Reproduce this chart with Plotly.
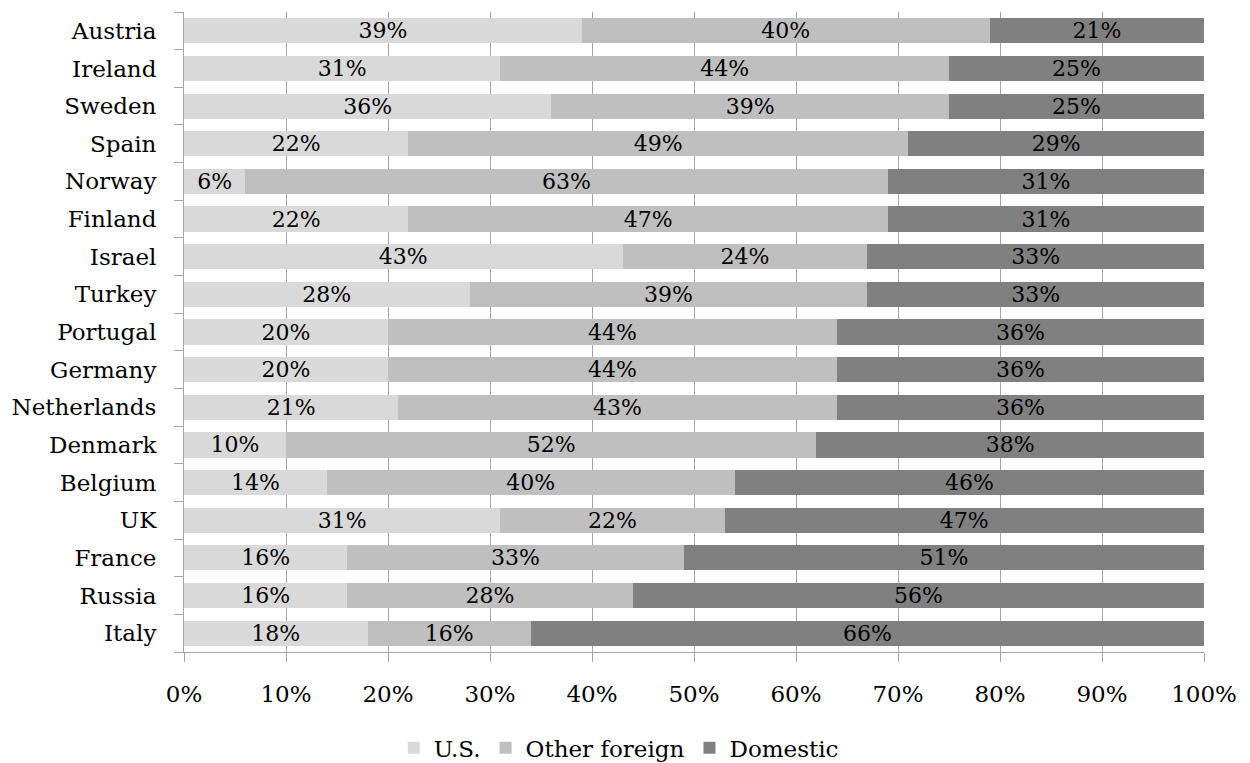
import plotly.graph_objects as go

countries = ["Austria", "Ireland", "Sweden", "Spain", "Norway", "Finland", "Israel",
             "Turkey", "Portugal", "Germany", "Netherlands", "Denmark", "Belgium",
             "UK", "France", "Russia", "Italy"]
us_share = [39, 31, 36, 22, 6, 22, 43, 28, 20, 20, 21, 10, 14, 31, 16, 16, 18]
other_foreign_share = [40, 44, 39, 49, 63, 47, 24, 39, 44, 44, 43, 52, 40, 22, 33, 28, 16]
domestic_share = [21, 25, 25, 29, 31, 31, 33, 33, 36, 36, 36, 38, 46, 47, 51, 56, 66]

series = [
    ("U.S.", us_share, "#d9d9d9"),
    ("Other foreign", other_foreign_share, "#bfbfbf"),
    ("Domestic", domestic_share, "#808080"),
]

FONT = "DejaVu Serif"
SIZE = 23
fig = go.Figure()
for name, vals, color in series:
    fig.add_trace(go.Bar(
        y=countries,
        x=[v / 100 for v in vals],
        name=name,
        orientation="h",
        marker=dict(color=color, line=dict(width=0)),
        text=[f"{v}%" for v in vals],
        textposition="inside",
        insidetextanchor="middle",
        textfont=dict(family=FONT, size=22, color="black"),
        cliponaxis=False,
    ))

fig.update_layout(
    barmode="stack",
    bargap=0.33,
    width=1250,
    height=763,
    margin=dict(l=184, r=46, t=12, b=111),
    plot_bgcolor="white",
    paper_bgcolor="white",
    font=dict(family=FONT, size=SIZE, color="black"),
    uniformtext=dict(mode="show", minsize=18),
    legend=dict(
        orientation="h",
        xref="container", yref="container",
        x=0.495, xanchor="center",
        y=0.02, yanchor="middle",
        font=dict(family=FONT, size=SIZE, color="black"),
        itemwidth=30,
        traceorder="normal",
    ),
    xaxis=dict(
        range=[0, 1],
        tickvals=[i / 10 for i in range(11)],
        tickformat=".0%",
        showgrid=True,
        gridcolor="#a6a6a6",
        gridwidth=1,
        showline=True,
        linecolor="#a6a6a6",
        ticks="outside",
        ticklen=9,
        tickcolor="#a6a6a6",
        ticklabelstandoff=12,
        zeroline=False,
        tickfont=dict(family=FONT, size=SIZE),
    ),
    yaxis=dict(
        categoryorder="array",
        categoryarray=countries[::-1],
        showline=True,
        linecolor="#a6a6a6",
        ticks="outside",
        tickson="boundaries",
        ticklen=9,
        tickcolor="#a6a6a6",
        showgrid=False,
        ticklabelstandoff=22,
        tickfont=dict(family=FONT, size=SIZE),
    ),
)

fig.write_html("out.html")
